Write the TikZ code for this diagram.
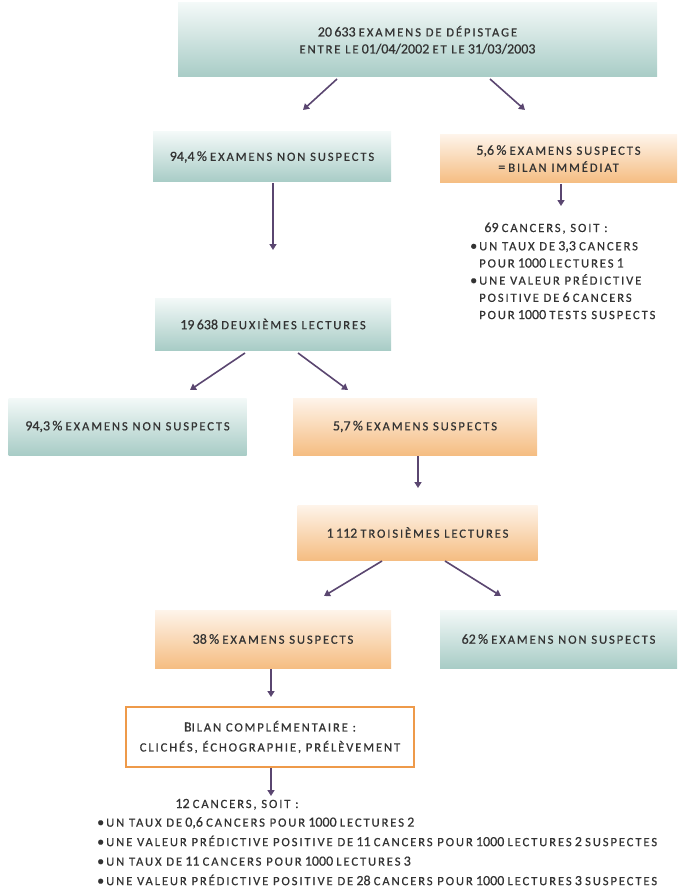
\documentclass[tikz,border=0pt]{standalone}
\usepackage{fontspec}
\setmainfont{Carlito}[FakeBold=0.6]
\newfontfamily\scfam{Carlito}[LetterSpace=15,FakeBold=0.6]
\usetikzlibrary{arrows.meta}
\definecolor{tealtop}{HTML}{F3F9F8}
\definecolor{tealbot}{HTML}{A8CCC6}
\definecolor{orgtop}{HTML}{FEF4EA}
\definecolor{orgbot}{HTML}{F5BD82}
\definecolor{orgline}{HTML}{EE9A4A}
\definecolor{arrcol}{HTML}{5A4670}
\definecolor{txt}{HTML}{333333}
\newcommand\scf{\scfam\fontsize{12.6}{15}\selectfont}
\newcommand\num{\fontsize{14}{17}\selectfont}
\newcommand\bul{\makebox[9pt][l]{\textbullet}}
\newcommand\ind{\hspace*{9pt}}
\tikzset{
  tealbox/.style={top color=tealtop, bottom color=tealbot, draw=none, text=txt, align=center, inner sep=0pt, font=\num},
  orgbox/.style={top color=orgtop, bottom color=orgbot, draw=none, text=txt, align=center, inner sep=0pt, font=\num},
  outbox/.style={fill=white, draw=orgline, line width=2.4pt, text=txt, align=center, inner sep=0pt, font=\num},
  plain/.style={text=txt, align=left, inner sep=0pt, font=\num},
  arr/.style={draw=arrcol, line width=1.6pt, -{Triangle[width=7pt,length=6pt]}}
}
\begin{document}
\begin{tikzpicture}[x=1pt,y=-1pt]
\useasboundingbox (0,0) rectangle (677,896);
% boxes
\node[tealbox, minimum width=479pt, minimum height=74pt] (top) at (417.5,40)
  {20\,633 {\scf EXAMENS DE DÉPISTAGE}\\[0pt]{\scf ENTRE LE} 01/04/2002 {\scf ET LE} 31/03/2003};
\node[tealbox, minimum width=238pt, minimum height=50pt] (a) at (272,157)
  {94,4\,\% {\scf EXAMENS NON SUSPECTS}};
\node[orgbox, minimum width=237pt, minimum height=48pt] (b) at (558.5,158.5)
  {5,6\,\% {\scf EXAMENS SUSPECTS}\\[0pt]= {\scf BILAN IMMÉDIAT}};
\node[plain, anchor=base] (r1) at (546,232) {69 {\scf CANCERS, SOIT :}};
\node[plain, anchor=north west, font=\fontsize{14}{17.2}\selectfont] (r2) at (470,241)
  {\bul{\scf UN TAUX DE} 3,3 {\scf CANCERS}\\
   \ind{\scf POUR} 1000 {\scf LECTURES} 1\\
   \bul{\scf UNE VALEUR PRÉDICTIVE}\\
   \ind{\scf POSITIVE DE} 6 {\scf CANCERS}\\
   \ind{\scf POUR} 1000 {\scf TESTS SUSPECTS}};
\node[tealbox, minimum width=236pt, minimum height=52pt] (c) at (273,324)
  {19\,638 {\scf DEUXIÈMES LECTURES}};
\node[tealbox, minimum width=238pt, minimum height=57pt] (d) at (127.5,426.5)
  {94,3\,\% {\scf EXAMENS NON SUSPECTS}};
\node[orgbox, minimum width=244pt, minimum height=57pt] (e) at (415,426.5)
  {5,7\,\% {\scf EXAMENS SUSPECTS}};
\node[orgbox, minimum width=240pt, minimum height=55pt] (f) at (417.5,532.5)
  {1\,112 {\scf TROISIÈMES LECTURES}};
\node[orgbox, minimum width=236pt, minimum height=58pt] (g) at (273,639)
  {38\,\% {\scf EXAMENS SUSPECTS}};
\node[tealbox, minimum width=237pt, minimum height=58pt] (h) at (558.5,639)
  {62\,\% {\scf EXAMENS NON SUSPECTS}};
\node[outbox, minimum width=288pt, minimum height=60pt] (i) at (270,737)
  {B{\scf ILAN COMPLÉMENTAIRE :}\\[3pt]{\scf CLICHÉS, ÉCHOGRAPHIE, PRÉLÈVEMENT}};
\node[plain, anchor=base] (s1) at (237,808) {12 {\scf CANCERS, SOIT :}};
\node[plain, anchor=north west, font=\fontsize{14}{19.5}\selectfont] (s2) at (97,817)
  {\bul{\scf UN TAUX DE} 0,6 {\scf CANCERS POUR} 1000 {\scf LECTURES} 2\\
   \bul{\scf UNE VALEUR PRÉDICTIVE POSITIVE DE} 11 {\scf CANCERS POUR} 1000 {\scf LECTURES} 2 {\scf SUSPECTES}\\
   \bul{\scf UN TAUX DE} 11 {\scf CANCERS POUR} 1000 {\scf LECTURES} 3\\
   \bul{\scf UNE VALEUR PRÉDICTIVE POSITIVE DE} 28 {\scf CANCERS POUR} 1000 {\scf LECTURES} 3 {\scf SUSPECTES}};
% arrow end points
\coordinate (t1) at (337,79);  \coordinate (t1e) at (303,110);
\coordinate (t2) at (490,79);  \coordinate (t2e) at (525,110);
\coordinate (a1) at (273,183); \coordinate (a1e) at (273,250);
\coordinate (b1) at (561,184); \coordinate (b1e) at (561,206);
\coordinate (c1) at (245,353); \coordinate (c1e) at (190,390);
\coordinate (c2) at (298,353); \coordinate (c2e) at (348,390);
\coordinate (e1) at (418,456); \coordinate (e1e) at (418,488);
\coordinate (f1) at (382,561); \coordinate (f1e) at (324,596);
\coordinate (f2) at (445,561); \coordinate (f2e) at (501,596);
\coordinate (g1) at (271,669); \coordinate (g1e) at (271,697);
\coordinate (i1) at (271,768); \coordinate (i1e) at (271,796);
\draw[arr] (t1) -- (t1e);
\draw[arr] (t2) -- (t2e);
\draw[arr] (a1) -- (a1e);
\draw[arr] (b1) -- (b1e);
\draw[arr] (c1) -- (c1e);
\draw[arr] (c2) -- (c2e);
\draw[arr] (e1) -- (e1e);
\draw[arr] (f1) -- (f1e);
\draw[arr] (f2) -- (f2e);
\draw[arr] (g1) -- (g1e);
\draw[arr] (i1) -- (i1e);
\end{tikzpicture}
\end{document}
